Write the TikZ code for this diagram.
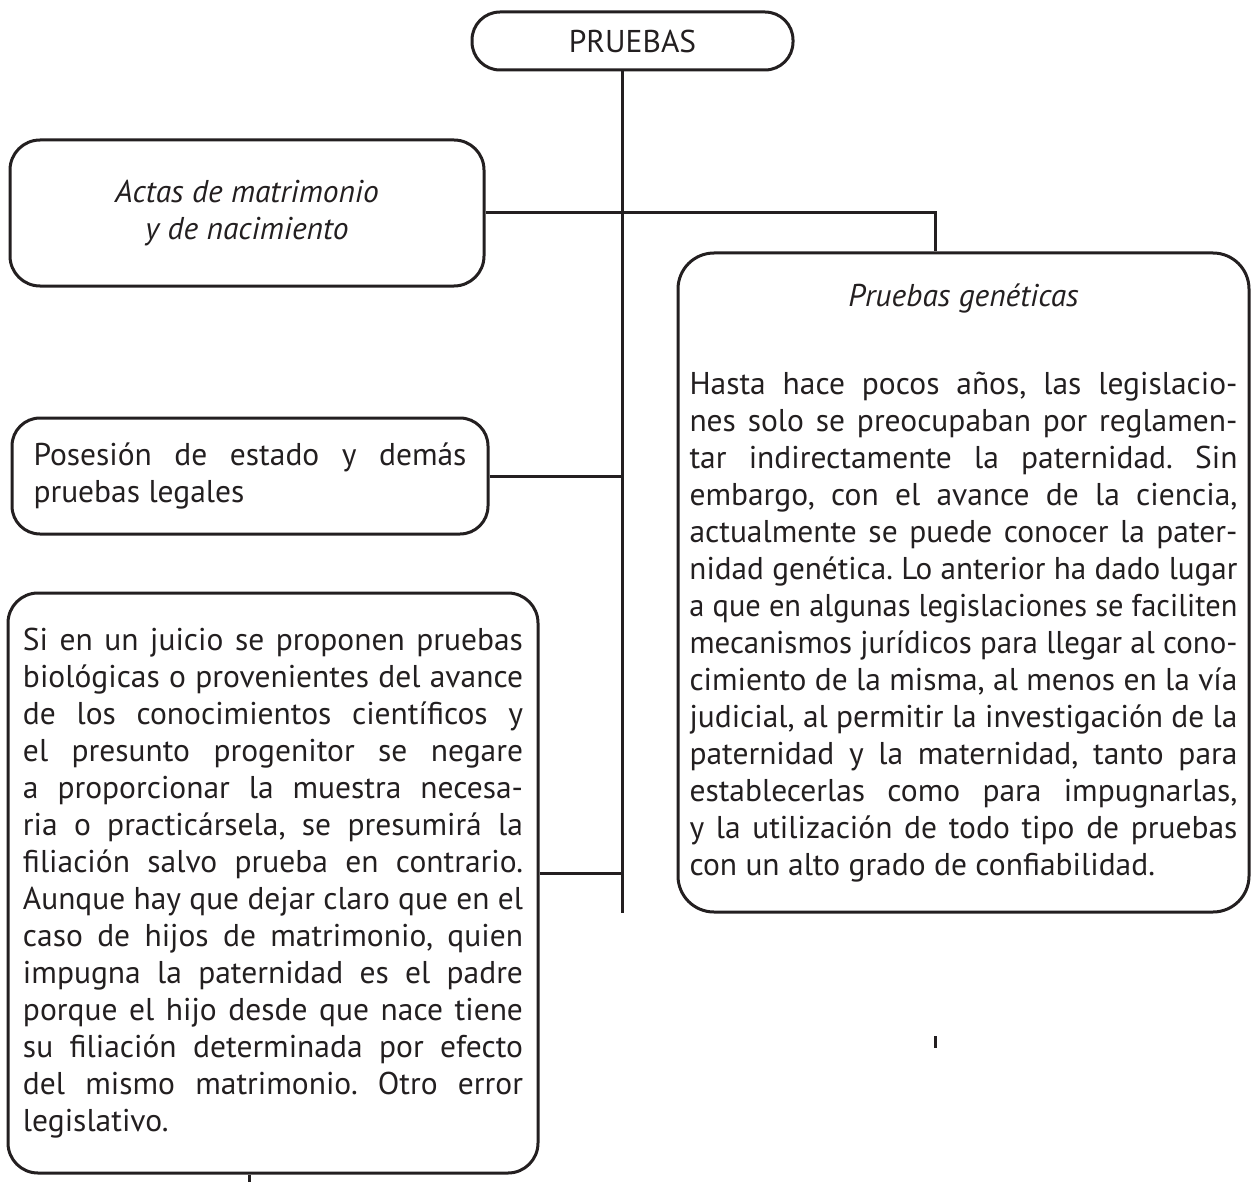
\documentclass[tikz,border=0pt]{standalone}
\usepackage{fontspec}
\setmainfont{PT Sans}
\usepackage{graphicx}
\frenchspacing
\newlength\jw
\newcommand\jline[2]{\settowidth{\jw}{#2}\ifdim\jw>#1\relax\resizebox{#1}{\height}{#2}\else\makebox[#1][s]{#2}\fi}
\newcommand\lline[2]{\makebox[#1][l]{#2}}
\definecolor{ink}{HTML}{231F20}
\begin{document}
\begin{tikzpicture}[x=1pt,y=-1pt,
  conn/.style={draw=ink, line width=3pt},
  box/.style={draw=ink, line width=3pt, rounded corners=30pt, inner sep=0pt, text=ink, align=center,
     font=\fontsize{31.5}{37}\selectfont}]
\useasboundingbox (0,0) rectangle (1252,1182);

\node[box, rounded corners=28pt, minimum width=321pt, minimum height=58pt] (pr) at (632.5,41) {PRUEBAS};

\node[box, minimum width=474pt, minimum height=146pt] (actas) at (247,213)
  {\itshape Actas de matrimonio\\ \itshape y de nacimiento};

\node[box, rounded corners=28pt, minimum width=476pt, minimum height=116pt] (pos) at (250,476)
  {\jline{433pt}{Posesión de estado y demás}\\ \lline{433pt}{pruebas legales}};

\node[box, minimum width=530pt, minimum height=580pt] (juicio) at (273,883)
  {\jline{500pt}{Si en un juicio se proponen pruebas}\\
   \jline{500pt}{biológicas o provenientes del avance}\\
   \jline{500pt}{de los conocimientos científicos y}\\
   \jline{500pt}{el presunto progenitor se negare}\\
   \jline{500pt}{a proporcionar la muestra necesa-}\\
   \jline{500pt}{ria o practicársela, se presumirá la}\\
   \jline{500pt}{filiación salvo prueba en contrario.}\\
   \jline{500pt}{Aunque hay que dejar claro que en el}\\
   \jline{500pt}{caso de hijos de matrimonio, quien}\\
   \jline{500pt}{impugna la paternidad es el padre}\\
   \jline{500pt}{porque el hijo desde que nace tiene}\\
   \jline{500pt}{su filiación determinada por efecto}\\
   \jline{500pt}{del mismo matrimonio. Otro error}\\
   \lline{500pt}{legislativo.}};

\node[box, rounded corners=36pt, minimum width=571pt, minimum height=659pt] (gen) at (963.5,582.5)
  {{\itshape Pruebas genéticas}\\[51pt]
   \jline{548pt}{Hasta hace pocos años, las legislacio-}\\
   \jline{548pt}{nes solo se preocupaban por reglamen-}\\
   \jline{548pt}{tar indirectamente la paternidad. Sin}\\
   \jline{548pt}{embargo, con el avance de la ciencia,}\\
   \jline{548pt}{actualmente se puede conocer la pater-}\\
   \jline{548pt}{nidad genética. Lo anterior ha dado lugar}\\
   \jline{548pt}{a que en algunas legislaciones se faciliten}\\
   \jline{548pt}{mecanismos jurídicos para llegar al cono-}\\
   \jline{548pt}{cimiento de la misma, al menos en la vía}\\
   \jline{548pt}{judicial, al permitir la investigación de la}\\
   \jline{548pt}{paternidad y la maternidad, tanto para}\\
   \jline{548pt}{establecerlas como para impugnarlas,}\\
   \jline{548pt}{y la utilización de todo tipo de pruebas}\\
   \lline{548pt}{con un alto grado de confiabilidad.}};

\coordinate (cend) at (622,913);
\coordinate (gx) at (935,0);
\coordinate (jy) at (0,873);
\coordinate (tk) at (249,1182);
\coordinate (s1) at (935,1036);
\coordinate (s2) at (935,1048);

\draw[conn] (pr.south -| cend) -- (cend);
\draw[conn] (actas.east) -| (gen.north -| gx);
\draw[conn] (pos.east) -- (pos.east -| cend);
\draw[conn] (juicio.east |- jy) -- (cend |- jy);
\draw[conn] (juicio.south -| tk) -- (tk);
\draw[conn] (s1) -- (s2);
\end{tikzpicture}
\end{document}
